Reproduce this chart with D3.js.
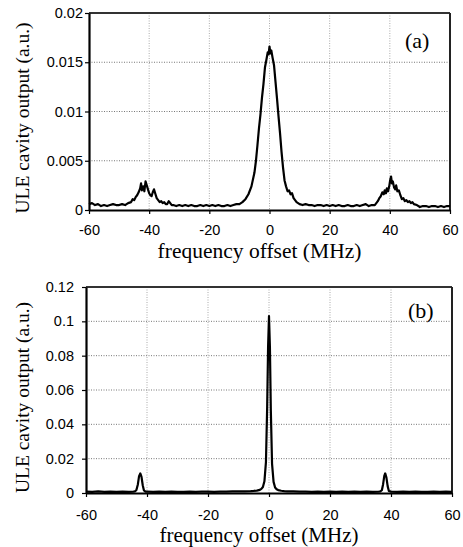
<!DOCTYPE html>
<html>
<head>
<meta charset="utf-8">
<script src="https://cdn.jsdelivr.net/npm/d3@7"></script>
<style>
  html, body { margin: 0; padding: 0; background: #fff; }
  svg { display: block; }
</style>
</head>
<body>
<svg id="chart" width="463" height="547"></svg>
<script>
// ---------------- data ----------------
const xTicks = [-60, -40, -20, 0, 20, 40, 60];
const xTickLabels = ["-60", "-40", "-20", "0", "20", "40", "60"];
const yTicksA = [0, 0.005, 0.01, 0.015, 0.02];
const yTickLabelsA = ["0", "0.005", "0.01", "0.015", "0.02"];
const yTicksB = [0, 0.02, 0.04, 0.06, 0.08, 0.1, 0.12];
const yTickLabelsB = ["0", "0.02", "0.04", "0.06", "0.08", "0.1", "0.12"];

const xTitle = "frequency offset (MHz)";
const yTitle = "ULE cavity output (a.u.)";
const panelLabels = ["(a)", "(b)"];

// panel (a) trace: frequency offset (MHz)
const freqA = [
  -60,-59,-58,-57,-56,-55,-54,-53,-52,-51,-50,-49,-48,-47,-46,-45.5,-45,-44.5,-44,-43.5,
  -43,-42.7,-42.4,-42,-41.6,-41.2,-40.8,-40.4,-40,-39.6,-39.2,-38.8,-38.4,-38,-37.5,-37,
  -36.5,-36,-35.5,-35,-34.5,-34,-33.5,-33,-32.5,-32,-31,-30,-29,-28,-27,-26,-25,-24,-23,
  -22,-21,-20,-19,-18,-17,-16,-15,-14,-13,-12,-11,-10,-9,-8,-7,-6,-5,-4.5,-4,-3.5,-3,-2.5,
  -2,-1.5,-1,-0.6,-0.3,0,0.3,0.6,1,1.5,2,2.5,3,3.5,4,4.5,5,5.5,6,6.5,7,7.5,8,8.5,9,10,11,
  12,13,14,15,16,17,18,19,20,21,22,23,24,25,26,27,28,29,30,31,32,33,34,35,35.5,36,36.5,37,
  37.5,38,38.3,38.7,39,39.4,39.8,40.1,40.4,40.7,41,41.4,41.8,42.1,42.5,43,43.5,44,44.5,45,
  45.5,46,46.5,47,47.5,48,49,50,51,52,53,54,55,56,57,58,59,60
];
// panel (a) trace: cavity output (a.u.)
const outA = [
  0.0006,0.0007,0.0005,0.0006,0.0004,0.0005,0.0004,0.0005,0.0006,0.0005,0.0005,0.0006,0.0005,0.0007,0.0008,0.0011,0.0010,0.0013,0.0015,0.0018,
  0.0022,0.0027,0.0020,0.0024,0.0019,0.0029,0.0025,0.0021,0.0017,0.0015,0.0014,0.0018,0.0021,0.0017,0.0012,0.0010,
  0.0008,0.0009,0.0007,0.0008,0.0006,0.0006,0.0009,0.0007,0.0005,0.0005,0.0004,0.0005,0.0004,0.0005,0.0004,0.0005,0.0004,0.0004,0.0005,
  0.0004,0.0005,0.0004,0.0005,0.0004,0.0005,0.0004,0.0004,0.0005,0.0004,0.0005,0.0006,0.0006,0.0008,0.0011,0.0016,0.0024,0.0038,0.0050,0.0066,0.0083,0.0097,0.0114,
  0.0128,0.0145,0.0153,0.0160,0.0158,0.0166,0.0159,0.0162,0.0155,0.0147,0.0130,0.0113,0.0095,0.0078,0.0059,0.0043,0.0030,0.0024,0.0019,0.0020,0.0016,0.0017,0.0012,0.0010,0.0008,0.0006,0.0005,
  0.0006,0.0005,0.0005,0.0004,0.0005,0.0005,0.0004,0.0005,0.0004,0.0005,0.0004,0.0005,0.0004,0.0004,0.0005,0.0004,0.0004,0.0005,0.0004,0.0005,0.0006,0.0004,0.0005,0.0005,0.0007,0.0009,0.0012,0.0014,
  0.0018,0.0016,0.0020,0.0017,0.0022,0.0019,0.0024,0.0030,0.0034,0.0027,0.0029,0.0023,0.0021,0.0025,0.0019,0.0020,0.0015,0.0011,0.0012,0.0009,
  0.0010,0.0008,0.0009,0.0007,0.0008,0.0006,0.0005,0.0003,0.0004,0.0004,0.0003,0.0004,0.0004,0.0003,0.0004,0.0003,0.0004,0.0004
];

// panel (b) trace
const freqB = [
  -60,-58,-56,-54,-52,-50,-48,-46,-44.5,-44,-43.5,-43,-42.6,-42.2,-41.8,-41.4,-41,-40.5,-40,
  -38,-36,-34,-32,-30,-28,-26,-24,-22,-20,-18,-16,-14,-12,-10,-8,-6,-5,-4,-3,-2.5,-2,-1.5,-1,
  -0.6,-0.3,0,0.3,0.6,1,1.5,2,2.5,3,4,5,6,8,10,12,14,16,18,20,22,24,26,28,30,32,34,36,36.5,
  37,37.4,37.8,38.1,38.5,38.9,39.3,40,42,44,46,48,50,52,54,56,58,60
];
const outB = [
  0.0008,0.0007,0.0009,0.0007,0.0008,0.0007,0.0008,0.0007,0.0008,0.0009,0.0016,0.0050,0.0098,0.0114,0.0094,0.0045,0.0015,0.0008,0.0008,
  0.0007,0.0008,0.0007,0.0008,0.0007,0.0007,0.0008,0.0007,0.0008,0.0008,0.0007,0.0008,0.0008,0.0009,0.0009,0.0010,0.0011,0.0012,0.0014,0.0018,0.0024,0.0035,0.0068,0.0180,
  0.0500,0.0850,0.1030,0.0850,0.0480,0.0170,0.0065,0.0032,0.0022,0.0017,0.0013,0.0011,0.0010,0.0009,0.0008,0.0008,0.0007,0.0008,0.0007,0.0008,0.0007,0.0008,0.0007,0.0008,0.0007,0.0008,0.0007,0.0008,0.0009,
  0.0016,0.0050,0.0100,0.0114,0.0090,0.0040,0.0012,0.0008,0.0007,0.0008,0.0007,0.0008,0.0007,0.0007,0.0008,0.0007,0.0008,0.0007
];

// ---------------- drawing ----------------
const svg = d3.select("#chart");
svg.append("rect").attr("width", 463).attr("height", 547).attr("fill", "#fff");

const panels = [
  { x: freqA, y: outA, yTicks: yTicksA, yLabels: yTickLabelsA, yMax: 0.02,
    left: 89, right: 450, top: 13, bottom: 210, yLabelGap: 6, xLabelOffset: 25,
    xTitleY: 257.5, xTitleSize: 21.5, yTitleCY: 118, label: panelLabels[0], labelX: 405, labelY: 48 },
  { x: freqB, y: outB, yTicks: yTicksB, yLabels: yTickLabelsB, yMax: 0.12,
    left: 86, right: 452, top: 287, bottom: 493, yLabelGap: 12, xLabelOffset: 27,
    xTitleY: 542, xTitleSize: 21, yTitleCY: 397.5, label: panelLabels[1], labelX: 408, labelY: 317.5 }
];

panels.forEach(p => {
  const x = d3.scaleLinear().domain([-60, 60]).range([p.left, p.right]);
  const y = d3.scaleLinear().domain([0, p.yMax]).range([p.bottom, p.top]);
  const g = svg.append("g");

  // gridlines
  g.append("g").selectAll("line.hg").data(p.yTicks.filter(v => v > 0 && v < p.yMax))
    .join("line")
    .attr("x1", p.left).attr("x2", p.right)
    .attr("y1", d => y(d)).attr("y2", d => y(d))
    .attr("stroke", "#777").attr("stroke-width", 1).attr("stroke-dasharray", "1,1.5");
  g.append("g").selectAll("line.vg").data(xTicks.filter(v => v > -60 && v < 60))
    .join("line")
    .attr("x1", d => x(d)).attr("x2", d => x(d))
    .attr("y1", p.top).attr("y2", p.bottom)
    .attr("stroke", "#aaa").attr("stroke-width", 1).attr("stroke-dasharray", "1,1.5");

  // frame (top & right)
  g.append("line").attr("x1", p.left).attr("x2", p.right).attr("y1", p.top).attr("y2", p.top)
    .attr("stroke", "#333").attr("stroke-width", 2);
  g.append("line").attr("x1", p.right).attr("x2", p.right).attr("y1", p.top).attr("y2", p.bottom)
    .attr("stroke", "#222").attr("stroke-width", 2);

  // axes
  const xAxis = d3.axisBottom(x).tickValues(xTicks).tickSize(4).tickSizeOuter(0)
    .tickFormat((d, i) => xTickLabels[i]);
  const yAxis = d3.axisLeft(y).tickValues(p.yTicks).tickSize(4).tickSizeOuter(0)
    .tickFormat((d, i) => p.yLabels[i]);

  const gx = g.append("g").attr("transform", `translate(0,${p.bottom})`).call(xAxis);
  gx.select(".domain").attr("stroke", "#000").attr("stroke-width", 2.2);
  gx.selectAll(".tick line").attr("stroke", "#000").attr("stroke-width", 1.2);
  gx.selectAll(".tick text")
    .attr("font-family", "'Liberation Sans', Arial, sans-serif")
    .attr("font-size", 14.5).attr("fill", "#000")
    .attr("dy", null).attr("y", p.xLabelOffset);

  const gy = g.append("g").attr("transform", `translate(${p.left},0)`).call(yAxis);
  gy.select(".domain").attr("stroke", "#000").attr("stroke-width", 2.2);
  gy.selectAll(".tick line").attr("stroke", "#000").attr("stroke-width", 1.2);
  gy.selectAll(".tick text")
    .attr("font-family", "'Liberation Sans', Arial, sans-serif")
    .attr("font-size", 14.5).attr("fill", "#000")
    .attr("x", -p.yLabelGap);

  // trace
  const pts = p.x.map((v, i) => [v, p.y[i]]);
  g.append("path").datum(pts)
    .attr("fill", "none").attr("stroke", "#000").attr("stroke-width", 2.2)
    .attr("stroke-linejoin", "round")
    .attr("d", d3.line().x(d => x(d[0])).y(d => y(d[1])));

  // titles
  g.append("text").attr("x", (p.left + p.right) / 2 - 10).attr("y", p.xTitleY)
    .attr("text-anchor", "middle")
    .attr("font-family", "'Liberation Serif', 'Times New Roman', serif")
    .attr("font-size", p.xTitleSize).attr("fill", "#000").text(xTitle);
  g.append("text")
    .attr("transform", `translate(29,${p.yTitleCY}) rotate(-90)`)
    .attr("text-anchor", "middle")
    .attr("font-family", "'Liberation Serif', 'Times New Roman', serif")
    .attr("font-size", 19.5).attr("fill", "#000").text(yTitle);
  g.append("text").attr("x", p.labelX).attr("y", p.labelY)
    .attr("font-family", "'Liberation Serif', 'Times New Roman', serif")
    .attr("font-size", 22).attr("fill", "#000").text(p.label);
});
</script>
</body>
</html>
